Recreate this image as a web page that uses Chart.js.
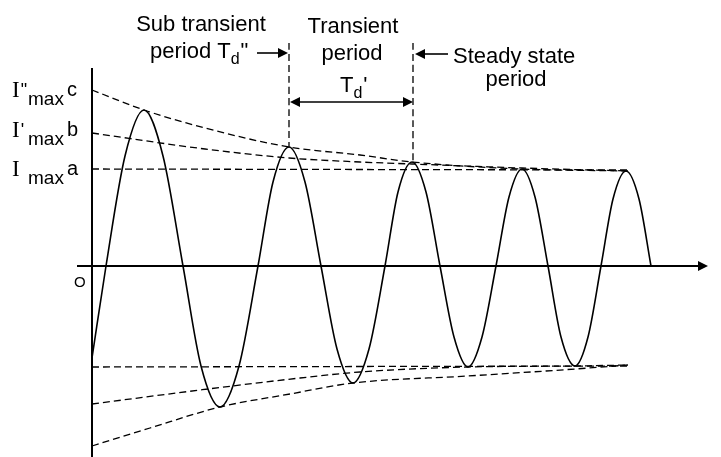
<!DOCTYPE html>
<html>
<head>
<meta charset="utf-8">
<script src="https://cdn.jsdelivr.net/npm/chart.js@4.4.1/dist/chart.umd.min.js"></script>
<style>
html,body{margin:0;padding:0;background:#fff;}
#wrap{width:721px;height:457px;}
</style>
</head>
<body>
<div id="wrap"><canvas id="c" width="721" height="457"></canvas></div>
<script>
// Short-circuit current waveform (time units, current units)
const waveT = [0, 14, 33, 52, 71, 91, 109, 128, 147, 166, 181, 197, 213, 229, 245, 261, 277, 293, 306, 320, 334, 348, 362, 376, 390, 404, 417, 430, 443, 456, 469, 483, 496, 509, 521, 534, 547, 559];
const waveI = [-92, 0, 110, 156, 110, 0, -100, -141, -100, 0, 84, 119, 84, 0, -83, -117, -83, 0, 74, 104, 74, 0, -71, -101, -71, 0, 69, 97, 69, 0, -71, -100, -71, 0, 67, 95, 67, 0];

// Envelopes
const upCT = [0, 52, 113, 197, 268, 320, 430, 536];
const upCI = [176, 156, 138, 119, 111, 104, 97, 95];
const upBT = [0, 113, 197, 268, 320, 430, 536];
const upBI = [133, 117, 108, 104, 102, 98, 95];
const upAT = [0, 536];
const upAI = [97, 96];
const loAT = [0, 536];
const loAI = [-101, -100];
const loBT = [0, 108, 208, 268, 376, 483, 536];
const loBI = [-138, -124, -112, -106, -101, -100, -99];
const loCT = [0, 58, 128, 198, 261, 376, 483, 536];
const loCI = [-180, -162, -141, -128, -117, -110, -103, -99];

// Period boundaries (time) and their top
const boundT = [197, 321];
const boundTop = 223;
const boundBottom = [119, 104];

// Axes extents
const xAxisT = [-15, 608];
const yAxisI = [-191, 198];

function pts(xs, ys) { return xs.map((x, i) => ({x: x, y: ys[i]})); }

const dashed = {borderColor: '#000', borderWidth: 1.3, borderDash: [7, 4], pointRadius: 0, fill: false, cubicInterpolationMode: 'monotone'};

const datasets = [
  {data: [{x: xAxisT[0], y: 0}, {x: xAxisT[1], y: 0}], borderColor: '#000', borderWidth: 2, pointRadius: 0},
  {data: [{x: 0, y: yAxisI[0]}, {x: 0, y: yAxisI[1]}], borderColor: '#000', borderWidth: 2, pointRadius: 0},
  Object.assign({data: pts(upCT, upCI)}, dashed),
  Object.assign({data: pts(upBT, upBI)}, dashed),
  Object.assign({data: pts(upAT, upAI)}, dashed),
  Object.assign({data: pts(loAT, loAI)}, dashed),
  Object.assign({data: pts(loBT, loBI)}, dashed),
  Object.assign({data: pts(loCT, loCI)}, dashed),
  Object.assign({data: [{x: boundT[0], y: boundTop}, {x: boundT[0], y: boundBottom[0]}]}, dashed),
  Object.assign({data: [{x: boundT[1], y: boundTop}, {x: boundT[1], y: boundBottom[1]}]}, dashed),
  {data: pts(waveT, waveI), borderColor: '#000', borderWidth: 1.6, pointRadius: 0, cubicInterpolationMode: 'monotone'},
  // annotation arrows shafts
  {data: [{x: 165, y: 213}, {x: 190, y: 213}], borderColor: '#000', borderWidth: 1.6, pointRadius: 0},
  {data: [{x: 204, y: 164}, {x: 315, y: 164}], borderColor: '#000', borderWidth: 1.6, pointRadius: 0},
  {data: [{x: 329, y: 212}, {x: 356, y: 212}], borderColor: '#000', borderWidth: 1.6, pointRadius: 0}
];

// arrow heads: [tipT, tipI, direction]
const arrowHeads = [[616, 0, 1], [196, 213, 1], [198, 164, -1], [321, 164, 1], [323, 212, -1]];

const annot = {
  id: 'annot',
  afterDatasetsDraw(chart) {
    const ctx = chart.ctx;
    const xs = chart.scales.x, ys = chart.scales.y;
    const X = v => xs.getPixelForValue(v), Y = v => ys.getPixelForValue(v);
    ctx.save();
    ctx.fillStyle = '#000';
    arrowHeads.forEach(a => {
      const tx = X(a[0]), ty = Y(a[1]), d = a[2];
      ctx.beginPath();
      ctx.moveTo(tx, ty);
      ctx.lineTo(tx - d * 10, ty - 5);
      ctx.lineTo(tx - d * 10, ty + 5);
      ctx.closePath();
      ctx.fill();
    });
    const sans = '"Liberation Sans", Arial, sans-serif';
    const serif = '"Liberation Serif", "Times New Roman", serif';
    function t(str, x, y, size, align, fam) {
      ctx.font = size + 'px ' + (fam || sans);
      ctx.textAlign = align || 'left';
      ctx.textBaseline = 'alphabetic';
      ctx.fillText(str, x, y);
      ctx.textAlign = 'left';
      return ctx.measureText(str).width;
    }
    // top labels
    t('Sub transient', 201, 31, 22, 'center');
    let x = 150;
    x += t('period T', x, 58, 22);
    x += t('d', x, 64, 16);
    t('"', x + 1, 58, 22);
    t('Transient', 353, 33, 22, 'center');
    t('period', 352, 60, 22, 'center');
    x = 340;
    x += t('T', x, 92, 22);
    x += t('d', x, 98, 16);
    t("'", x + 1, 92, 22);
    t('Steady state', 453, 63, 22);
    t('period', 516, 86, 22, 'center');
    // left labels
    function lab(prime, letter, base) {
      let xx = 12;
      xx += t('I', xx, base, 23, 'left', serif);
      if (prime) t(prime, xx + 1, base - 1, 18);
      t('max', 28, base + 8, 19);
      t(letter, 67, base - 1, 20);
    }
    lab('"', 'c', 97);
    lab("'", 'b', 137);
    lab('', 'a', 176);
    t('O', 74, 287, 15);
    ctx.restore();
  }
};

new Chart(document.getElementById('c'), {
  type: 'line',
  data: {datasets: datasets},
  options: {
    responsive: false,
    animation: false,
    devicePixelRatio: 1,
    layout: {padding: 0},
    plugins: {legend: {display: false}, tooltip: {enabled: false}},
    elements: {line: {borderCapStyle: 'butt'}},
    scales: {
      x: {type: 'linear', min: -92, max: 629, display: false},
      y: {type: 'linear', min: -191, max: 266, display: false}
    }
  },
  plugins: [annot]
});
</script>
</body>
</html>
